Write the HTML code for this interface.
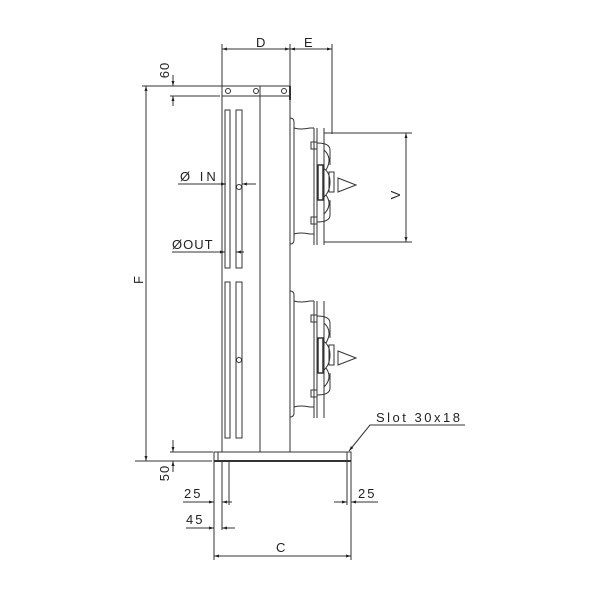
<!DOCTYPE html>
<html><head><style>body{margin:0;background:#fff}svg{display:block}text{font-family:"Liberation Sans",sans-serif;fill:#222}</style></head><body>
<svg width="600" height="600" viewBox="0 0 600 600" xmlns="http://www.w3.org/2000/svg">
<defs><marker id="a" viewBox="0 0 10 10" refX="10" refY="5" markerWidth="7" markerHeight="5" orient="auto-start-reverse"><path d="M0,2 L10,5 L0,8z" fill="#222"/></marker></defs>
<g stroke="#333" stroke-width="1" fill="none">
<!-- main body -->
<rect x="222" y="86" width="68" height="366"/>
<line x1="222" y1="96" x2="290" y2="96"/>
<line x1="260" y1="86" x2="260" y2="452"/>
<line x1="290" y1="86" x2="290" y2="100" stroke-width="2"/>
<circle cx="228" cy="91" r="2.5"/><circle cx="256" cy="91" r="2.5"/><circle cx="284" cy="91" r="2.5"/>
<!-- tubes -->
<rect x="225" y="110" width="5" height="158"/><rect x="236" y="110" width="6" height="158"/>
<rect x="225" y="282" width="5" height="156"/><rect x="236" y="282" width="6" height="156"/>
<circle cx="239" cy="187" r="2.5"/><circle cx="239" cy="360" r="2.5"/>
<!-- base -->
<rect x="214" y="452" width="137" height="9"/>
<line x1="214" y1="461" x2="351" y2="461" stroke-width="2"/>
<line x1="218" y1="452" x2="218" y2="461"/><line x1="347" y1="452" x2="347" y2="461"/>
<!-- fans -->
<g id="fan">
<path d="M290,118 Q294,118 294,122 L294,240 Q294,244 290,244"/>
<path d="M294,128 Q300,130 310,128 L314,128 M294,234 Q300,232 310,234 L314,234"/>
<line x1="314" y1="128" x2="314" y2="245"/><line x1="317" y1="128" x2="317" y2="245"/><line x1="324" y1="128" x2="324" y2="245"/>
<rect x="311" y="142" width="6" height="7"/><rect x="311" y="217" width="6" height="7"/>
<path d="M317,143 Q330,143 330,150 L330,165 M317,222 Q330,222 330,215 L330,200 M324,150 Q333,158 326,170 M324,214 Q333,205 326,195"/>
<rect x="318" y="165" width="5" height="35" stroke-width="1.5"/>
<path d="M323,168 Q330,172 330,182 Q330,192 323,198"/>
<rect x="329" y="172" width="5" height="20"/>
<path d="M338,178 L356,185 L338,192z"/>
</g>
<use href="#fan" transform="translate(0,173)"/>
<line x1="290" y1="128" x2="290" y2="245"/>
<!-- dims D E -->
<line x1="222" y1="86" x2="222" y2="44"/><line x1="290" y1="86" x2="290" y2="44"/><line x1="332" y1="44" x2="332" y2="134"/>
<line x1="222" y1="49" x2="290" y2="49" marker-start="url(#a)" marker-end="url(#a)"/>
<line x1="290" y1="49" x2="332" y2="49" marker-start="url(#a)" marker-end="url(#a)"/>
<!-- V -->
<line x1="324" y1="133" x2="412" y2="133"/><line x1="324" y1="242" x2="412" y2="242"/>
<line x1="406" y1="133" x2="406" y2="242" marker-start="url(#a)" marker-end="url(#a)"/>
<!-- F -->
<line x1="142" y1="86" x2="222" y2="86"/>
<line x1="135" y1="461" x2="212" y2="461"/>
<line x1="146" y1="86" x2="146" y2="461" marker-start="url(#a)" marker-end="url(#a)"/>
<!-- 60 -->
<line x1="170" y1="96" x2="220" y2="96"/>
<line x1="173" y1="75" x2="173" y2="86" marker-end="url(#a)"/>
<line x1="173" y1="106" x2="173" y2="96" marker-end="url(#a)"/>
<!-- 50 -->
<line x1="170" y1="452" x2="213" y2="452"/>
<line x1="173" y1="440" x2="173" y2="452" marker-end="url(#a)"/>
<line x1="173" y1="472" x2="173" y2="461" marker-end="url(#a)"/>
<!-- IN OUT -->
<line x1="178" y1="184" x2="226" y2="184" marker-end="url(#a)"/>
<line x1="256" y1="184" x2="242" y2="184" marker-end="url(#a)"/>
<line x1="172" y1="252" x2="225" y2="252" marker-end="url(#a)"/>
<line x1="244" y1="252" x2="236" y2="252" marker-end="url(#a)"/>
<!-- bottom dims -->
<line x1="214" y1="461" x2="214" y2="560"/><line x1="222" y1="461" x2="222" y2="530"/><line x1="229" y1="461" x2="229" y2="505"/><line x1="347" y1="461" x2="347" y2="505"/><line x1="351" y1="461" x2="351" y2="560"/>
<line x1="183" y1="502" x2="214" y2="502" marker-end="url(#a)"/>
<line x1="232" y1="502" x2="222" y2="502" marker-end="url(#a)"/>
<line x1="186" y1="528" x2="214" y2="528" marker-end="url(#a)"/>
<line x1="235" y1="528" x2="222" y2="528" marker-end="url(#a)"/>
<line x1="334" y1="502" x2="347" y2="502" marker-end="url(#a)"/>
<line x1="378" y1="502" x2="351" y2="502" marker-end="url(#a)"/>
<line x1="214" y1="556" x2="351" y2="556" marker-start="url(#a)" marker-end="url(#a)"/>
<!-- slot leader -->
<path d="M465,425 L370,425 L349,451" marker-end="url(#a)"/>
</g>
<g font-size="13">
<text x="256" y="47">D</text><text x="304" y="47">E</text>
<text x="400" y="195" transform="rotate(-90 400 195)" text-anchor="middle">V</text>
<text x="143" y="280" transform="rotate(-90 143 280)" text-anchor="middle">F</text>
<text x="169" y="70" transform="rotate(-90 169 70)" text-anchor="middle" letter-spacing="1">60</text>
<text x="169" y="473" transform="rotate(-90 169 473)" text-anchor="middle" letter-spacing="1">50</text>
<text x="180" y="181" letter-spacing="3">Ø IN</text>
<text x="172" y="249" letter-spacing="1">ØOUT</text>
<text x="184" y="498" letter-spacing="2">25</text>
<text x="186" y="524" letter-spacing="2">45</text>
<text x="358" y="498" letter-spacing="2">25</text>
<text x="276" y="552">C</text>
<text x="376" y="422" letter-spacing="2.5">Slot 30x18</text>
</g>
</svg>
</body></html>
